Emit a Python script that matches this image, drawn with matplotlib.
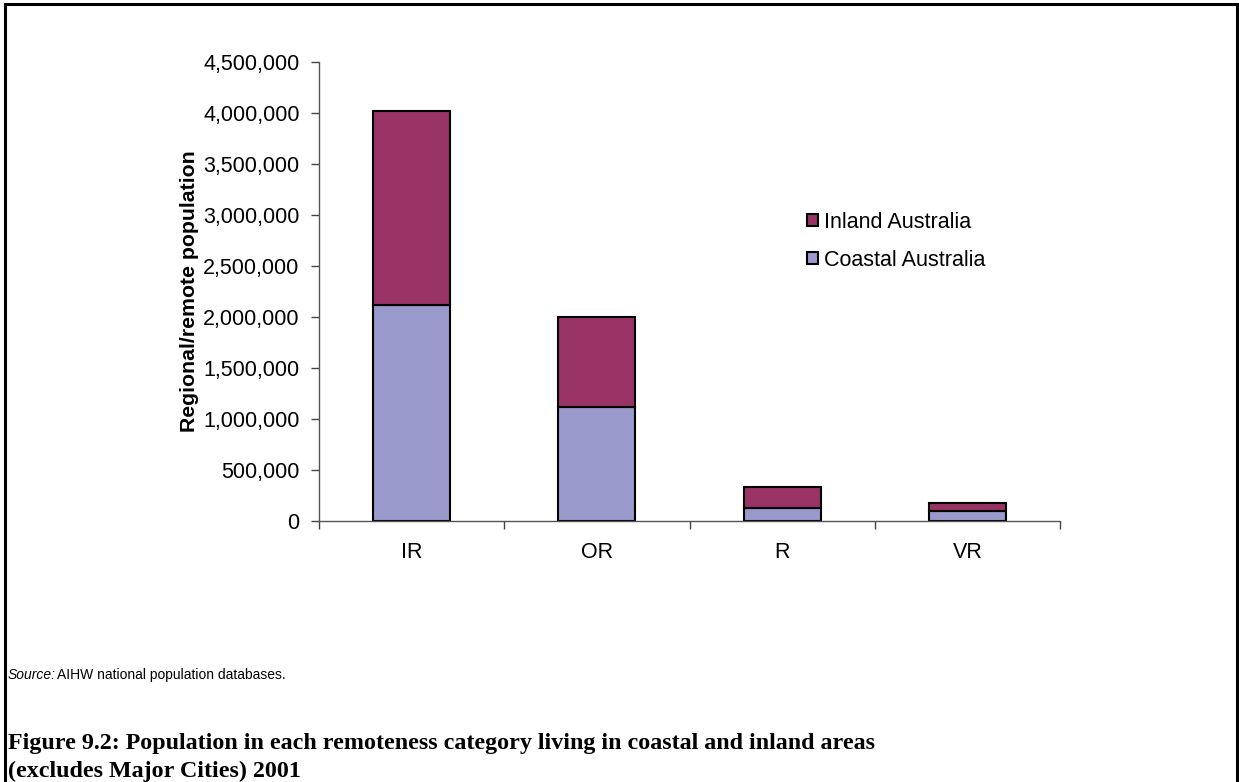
import matplotlib.pyplot as plt
from matplotlib.patches import Rectangle
from matplotlib.ticker import FuncFormatter

# Remoteness categories and population (excludes Major Cities), 2001
categories = ["IR", "OR", "R", "VR"]
coastal = [2120000, 1120000, 130000, 100000]
inland = [1900000, 880000, 200000, 80000]

plt.rcParams["font.family"] = ["Liberation Sans", "DejaVu Sans"]

fig = plt.figure(figsize=(12.39, 7.82), dpi=100)
ax = fig.add_axes([0.2575, 0.3338, 0.598, 0.587])

x = range(len(categories))
ax.bar(x, coastal, width=0.415, color="#9999CC", edgecolor="black",
       linewidth=1.5, label="Coastal Australia")
ax.bar(x, inland, bottom=coastal, width=0.415, color="#993366",
       edgecolor="black", linewidth=1.5, label="Inland Australia")

ax.set_xlim(-0.5, len(categories) - 0.5)
ax.set_ylim(0, 4500000)
ax.set_yticks(range(0, 4500001, 500000))
ax.yaxis.set_major_formatter(FuncFormatter(lambda v, p: f"{int(v):,}"))
ax.set_xticks(list(x))
ax.set_xticklabels(categories)
ax.set_xticks([i - 0.5 for i in range(len(categories) + 1)], minor=True)
ax.tick_params(axis="x", which="major", length=0, pad=15, labelsize=15.5)
ax.tick_params(axis="x", which="minor", length=6, width=1, color="#444444")
ax.tick_params(axis="y", length=6, width=1, color="#444444", labelsize=15.5, pad=8)

for s in ["top", "right"]:
    ax.spines[s].set_visible(False)
for s in ["left", "bottom"]:
    ax.spines[s].set_color("#555555")
    ax.spines[s].set_linewidth(1)

ax.set_ylabel("Regional/remote population", fontsize=15.3, fontweight="bold", labelpad=3)

handles, labels = ax.get_legend_handles_labels()
ax.legend(handles[::-1], labels[::-1], loc="upper left",
          bbox_to_anchor=(796 / 1239, 1 - 201 / 782), bbox_transform=fig.transFigure,
          frameon=False, fontsize=15.5, handlelength=0.5, handleheight=0.5,
          handletextpad=0.3, labelspacing=0.8, borderpad=0)

# Notes and caption
src = fig.text(8 / 1239, 1 - 675 / 782, "Source:", fontsize=10, style="italic", va="center")
r = fig.canvas.get_renderer()
bb = src.get_window_extent(renderer=r)
fig.text((bb.x1 + 1) / 1239, 1 - 675 / 782, "AIHW national population databases.",
         fontsize=10, va="center")
serif = ["Liberation Serif", "DejaVu Serif"]
fig.text(8 / 1239, 1 - 743 / 782,
         "Figure 9.2: Population in each remoteness category living in coastal and inland areas",
         fontsize=17.3, fontweight="bold", family=serif, va="center")
fig.text(8 / 1239, 1 - 771 / 782, "(excludes Major Cities) 2001",
         fontsize=17.3, fontweight="bold", family=serif, va="center")

# Page border
fig.patches.append(Rectangle((5 / 1239, -0.05), 1232 / 1239, 1.05 - 4 / 782,
                             transform=fig.transFigure, fill=False,
                             edgecolor="black", linewidth=2.2, clip_on=False))

fig.savefig("out.png", dpi=100)
